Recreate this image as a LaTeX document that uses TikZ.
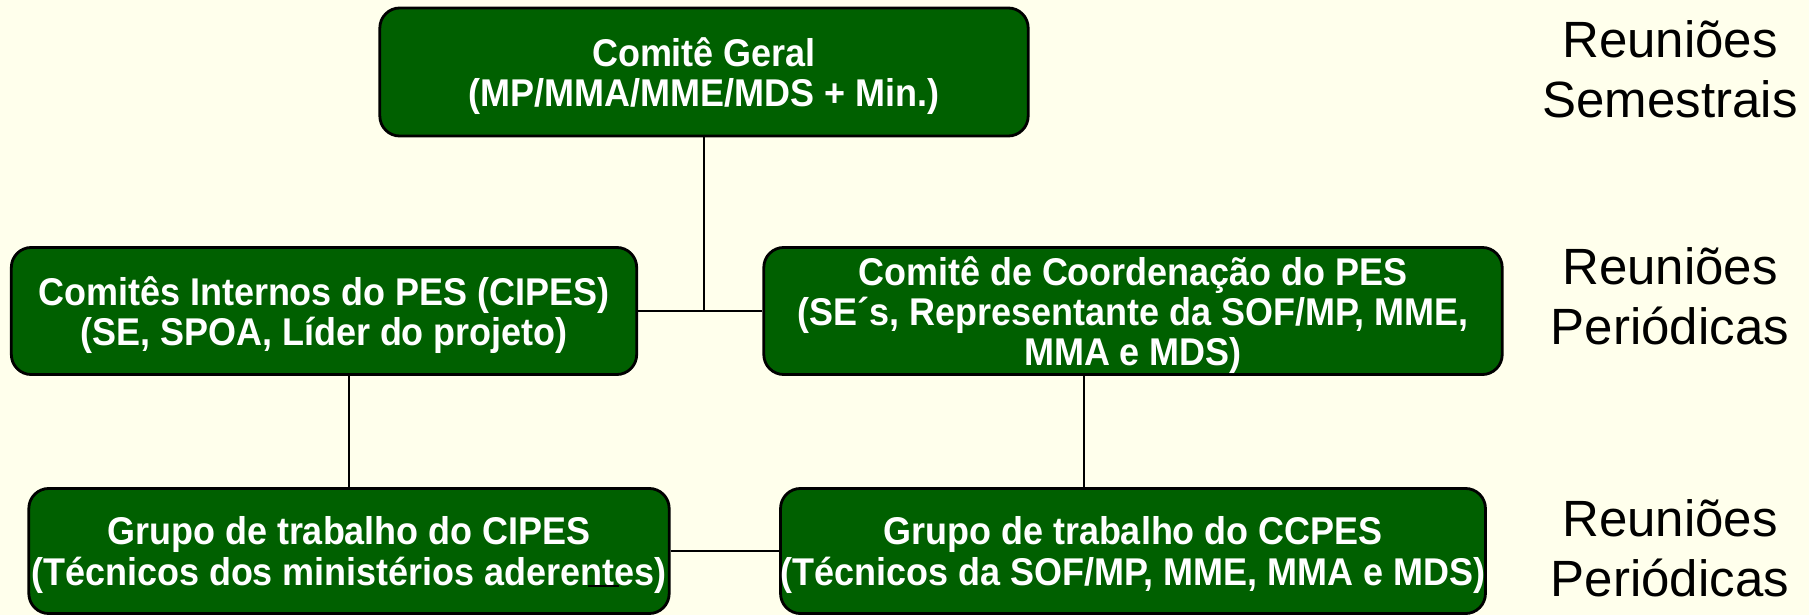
\documentclass[tikz,border=0pt]{standalone}
\usepackage{fontspec}
\usepackage{tikz}
\setmainfont{Liberation Sans}
\newfontfamily\caixafont[FakeStretch=0.93]{Liberation Sans}
\definecolor{fundo}{RGB}{255,255,236}
\definecolor{verde}{RGB}{0,96,0}

\begin{document}
\begin{tikzpicture}[x=0.01cm,y=-0.01cm,
  comite/.style={draw=black,line width=0.8pt,fill=verde,rounded corners=0.2cm,
    text=white,font=\caixafont\fontsize{11}{11.5}\selectfont\bfseries,align=center,
    inner sep=0pt,text depth=-1pt},
  reuniao/.style={font=\fontsize{14.5}{17}\selectfont,align=center},
  liga/.style={line width=0.5pt}]
  \fill[fundo] (0,0) rectangle (1809,615);
  \useasboundingbox (0,0) rectangle (1809,615);
  \node[comite,minimum width=6.48cm,minimum height=1.28cm] (geral) at (704,72)
    {Comitê Geral\\(MP/MMA/MME/MDS + Min.)};
  \node[comite,minimum width=6.25cm,minimum height=1.27cm] (cipes) at (324,311)
    {Comitês Internos do PES (CIPES)\\(SE, SPOA, Líder do projeto)};
  \node[comite,minimum width=7.38cm,minimum height=1.27cm] (ccpes) at (1133,311)
    {Comitê de Coordenação do PES\\(SE´s, Representante da SOF/MP, MME,\\MMA e MDS)};
  \node[comite,minimum width=6.40cm,minimum height=1.25cm] (gtcipes) at (349,551)
    {Grupo de trabalho do CIPES\\(Técnicos dos ministérios aderentes)};
  \node[comite,minimum width=7.04cm,minimum height=1.25cm] (gtccpes) at (1133,551)
    {Grupo de trabalho do CCPES\\(Técnicos da SOF/MP, MME, MMA e MDS)};
  \node[reuniao] (semestrais) at (1670,69) {Reuniões\\Semestrais};
  \node[reuniao] (periodicas1) at (1670,296) {Reuniões\\Periódicas};
  \node[reuniao] (periodicas2) at (1670,548) {Reuniões\\Periódicas};
  \coordinate (meio) at (geral.south |- cipes.east);
  \draw[liga] (geral.south) -- (meio) (cipes.east) -- (ccpes.west);
  \draw[liga] (gtcipes.north |- cipes.south) -- (gtcipes.north);
  \draw[liga] ([xshift=-0.49cm]ccpes.south) -- ([xshift=-0.49cm]ccpes.south |- gtccpes.north);
  \draw[liga] (gtcipes.east) -- (gtccpes.west);
  \draw[liga] (588,586) -- (619,586);
\end{tikzpicture}
\end{document}
